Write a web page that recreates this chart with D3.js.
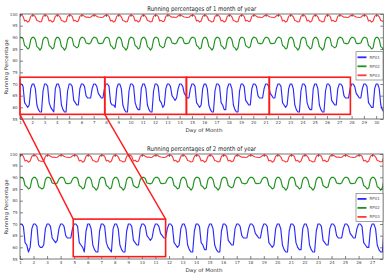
<!DOCTYPE html>
<html><head><meta charset="utf-8">
<script src="https://cdn.jsdelivr.net/npm/d3@7"></script>
<style>body{margin:0;background:#fff} svg{display:block} text{font-family:"DejaVu Sans",sans-serif}</style>
</head><body><svg id="c" width="390" height="280"></svg>
<script>
// ---------- data ----------
const sampleHours = [0,3,6,9,12,15,18,21];
const seriesNames = ["RP01","RP02","RP03"];
const yTicks = [55,60,65,70,75,80,85,90,95,100];
const xTicks1 = [1,2,3,4,5,6,7,8,9,10,11,12,13,14,15,16,17,18,19,20,21,22,23,24,25,26,27,28,29,30];
const xTicks2 = [1,2,3,4,5,6,7,8,9,10,11,12,13,14,15,16,17,18,19,20,21,22,23,24,25,26,27];
const titles = ["Running percentages of 1 month of year","Running percentages of 2 month of year"];

const m1RP01 = [
70,70,69,62,61,60,61,68, 70,70,68,61,59,58,58,67, 70,70,69,62,60,59,58,68, 70,70,68,61,59,58,58,67,
70,70,69,63,62,61,61,68, 70,70,69,65,64,64,64,68, 70,70,69,66,65,64,64,68, 70,70,69,62,61,61,60,68,
70,70,68,61,59,58,58,67, 70,70,69,62,60,59,59,68, 70,70,68,61,59,58,58,67, 70,70,69,63,62,60,61,68,
70,70,69,65,64,63,64,68, 70,70,69,66,65,64,64,68, 70,70,69,62,61,60,61,68, 70,70,68,61,59,58,58,67,
70,70,69,62,61,59,59,68, 70,70,68,61,59,58,58,67, 70,70,69,63,62,61,61,68, 70,70,69,65,64,64,64,68,
70,70,69,66,65,64,64,68, 70,70,69,62,61,60,61,68, 70,70,68,61,59,58,58,67, 70,70,69,62,60,59,59,68,
70,70,68,61,59,58,58,67, 70,70,69,63,62,61,61,68, 70,70,69,65,64,64,64,68, 70,70,69,66,65,64,64,68,
70,70,69,62,61,60,60,68, 70,70,68,61,59,58,58,67];
const m1RP02 = [
90,90,89.5,86.5,86,85,85.5,89, 90,90,89,86,85.5,84.5,85.5,89, 90,90,89.5,86.5,86,85,85.5,89, 90,90,89,86,85.5,84.5,85.5,89,
90,90,89.5,86.5,86,85.5,86,89, 90,90,89.5,87.6,87.4,87.2,87.6,89.2, 90,90,89.5,87.5,87.3,87.4,87.6,89.2, 90,90,89.5,86.5,86,85,85.5,89,
90,90,89,86,85.5,84.5,85.5,89, 90,90,89.5,86.5,86,85,85.5,89, 90,90,89,86,85.5,84.5,85.5,89, 90,90,89.5,86.5,86,85.5,86,89,
90,90,89.5,87.6,87.4,87.2,87.6,89.2, 90,90,89.5,87.5,87.3,87.4,87.6,89.2, 90,90,89.5,86.5,86,85,85.5,89, 90,90,89,86,85.5,84.5,85.5,89,
90,90,89.5,86.5,86,85,85.5,89, 90,90,89,86,85.5,84.5,85.5,89, 90,90,89.5,86.5,86,85.5,86,89, 90,90,89.5,87.6,87.4,87.2,87.6,89.2,
90,90,89.5,87.5,87.3,87.4,87.6,89.2, 90,90,89.5,86.5,86,85,85.5,89, 90,90,89,86,85.5,84.5,85.5,89, 90,90,89.5,86.5,86,85,85.5,89,
90,90,89,86,85.5,84.5,85.5,89, 90,90,89.5,86.5,86,85.5,86,89, 90,90,89.5,87.6,87.4,87.2,87.6,89.2, 90,90,89.5,87.5,87.3,87.4,87.6,89.2,
90,90,89.5,86.5,86,85,85.5,89, 90,90,89,86,85.5,84.5,85.5,89];
const m1RP03 = [
99.5,99.5,99,97,97.3,96.5,97,99, 99.5,99.5,98.8,97.2,97,96.6,96.8,99, 99.5,99.5,99,97,97.3,96.5,97,99, 99.5,99.5,98.8,97.2,97,96.6,96.8,99,
99.5,99.5,99,97,97.3,96.7,97,99, 99.5,99.5,99,98.6,98.7,98.5,98.6,99.2, 99.5,99.5,99,98.7,98.6,98.5,98.6,99.2, 99.5,99.5,99,97,97.3,96.5,97,99,
99.5,99.5,98.8,97.2,97,96.6,96.8,99, 99.5,99.5,99,97,97.3,96.5,97,99, 99.5,99.5,98.8,97.2,97,96.6,96.8,99, 99.5,99.5,99,97,97.3,96.7,97,99,
99.5,99.5,99,98.6,98.7,98.5,98.6,99.2, 99.5,99.5,99,98.7,98.6,98.5,98.6,99.2, 99.5,99.5,99,97,97.3,96.5,97,99, 99.5,99.5,98.8,97.2,97,96.6,96.8,99,
99.5,99.5,99,97,97.3,96.5,97,99, 99.5,99.5,98.8,97.2,97,96.6,96.8,99, 99.5,99.5,99,97,97.3,96.7,97,99, 99.5,99.5,99,98.6,98.7,98.5,98.6,99.2,
99.5,99.5,99,98.7,98.6,98.5,98.6,99.2, 99.5,99.5,99,97,97.3,96.5,97,99, 99.5,99.5,98.8,97.2,97,96.6,96.8,99, 99.5,99.5,99,97,97.3,96.5,97,99,
99.5,99.5,98.8,97.2,97,96.6,96.8,99, 99.5,99.5,99,97,97.3,96.7,97,99, 99.5,99.5,99,98.6,98.7,98.5,98.6,99.2, 99.5,99.5,99,98.7,98.6,98.5,98.6,99.2,
99.5,99.5,99,97,97.3,96.5,97,99, 99.5,99.5,98.8,97.2,97,96.6,96.8,99];

const m2RP01 = [
70,70,69,62,61,58,60,68, 70,70,69,61,60,60,61,68, 70,70,69,64,63,62,63,68, 70,70,69,65,64,64,64,68,
70,70,69,62,61,60,58,67, 70,70,68,61,59,58,58,67, 70,70,69,62,60,59,58,68, 70,70,68,61,59,58,58,67,
70,70,69,63,62,61,61,68, 70,70,69,65,64,63,64,68, 70,70,69,66,65,64,64,68, 70,70,69,62,61,60,61,68,
70,70,68,61,59,58,58,67, 70,70,69,62,61,59,59,68, 70,70,68,61,59,58,58,67, 70,70,69,63,62,61,61,68,
70,70,69,65,64,64,64,68, 70,70,69,66,65,64,64,68, 70,70,69,62,61,60,61,68, 70,70,68,61,59,58,58,67,
70,70,69,62,60,59,59,68, 70,70,68,61,59,58,58,67, 70,70,69,63,62,61,61,68, 70,70,69,65,64,64,64,68,
70,70,69,66,65,64,64,68, 70,70,69,62,61,60,60,68, 70,70,68,61,59,58,58,67];
const m2RP02 = [
90,90,89.5,86.5,86,85,85.5,89, 90,90,89,86,85.5,85,85.5,89, 90,90,89.5,87.6,87.4,87.2,87.6,89.2, 90,90,89.5,87.5,87.3,87.4,87.6,89.2,
90,90,89.5,86.5,86,85,85.5,89, 90,90,89,86,85.5,84.5,85.5,89, 90,90,89.5,86.5,86,85,85.5,89, 90,90,89,86,85.5,84.5,85.5,89,
90,90,89.5,86.5,86,85.5,86,89, 90,90,89.5,87.6,87.4,87.2,87.6,89.2, 90,90,89.5,87.5,87.3,87.4,87.6,89.2, 90,90,89.5,86.5,86,85,85.5,89,
90,90,89,86,85.5,84.5,85.5,89, 90,90,89.5,86.5,86,85,85.5,89, 90,90,89,86,85.5,84.5,85.5,89, 90,90,89.5,86.5,86,85.5,86,89,
90,90,89.5,87.6,87.4,87.2,87.6,89.2, 90,90,89.5,87.5,87.3,87.4,87.6,89.2, 90,90,89.5,86.5,86,85,85.5,89, 90,90,89,86,85.5,84.5,85.5,89,
90,90,89.5,86.5,86,85,85.5,89, 90,90,89,86,85.5,84.5,85.5,89, 90,90,89.5,86.5,86,85.5,86,89, 90,90,89.5,87.6,87.4,87.2,87.6,89.2,
90,90,89.5,87.5,87.3,87.4,87.6,89.2, 90,90,89.5,86.5,86,85,85.5,89, 90,90,89,86,85.5,84.5,85.5,89];
const m2RP03 = [
99.5,99.5,99,97,97.3,96.5,97,99, 99.5,99.5,98.8,97.2,97,96.8,97,99, 99.5,99.5,99,98.6,98.7,98.5,98.6,99.2, 99.5,99.5,99,98.7,98.6,98.5,98.6,99.2,
99.5,99.5,99,97,97.3,96.5,97,99, 99.5,99.5,98.8,97.2,97,96.6,96.8,99, 99.5,99.5,99,97,97.3,96.5,97,99, 99.5,99.5,98.8,97.2,97,96.6,96.8,99,
99.5,99.5,99,97,97.3,96.7,97,99, 99.5,99.5,99,98.6,98.7,98.5,98.6,99.2, 99.5,99.5,99,98.7,98.6,98.5,98.6,99.2, 99.5,99.5,99,97,97.3,96.5,97,99,
99.5,99.5,98.8,97.2,97,96.6,96.8,99, 99.5,99.5,99,97,97.3,96.5,97,99, 99.5,99.5,98.8,97.2,97,96.6,96.8,99, 99.5,99.5,99,97,97.3,96.7,97,99,
99.5,99.5,99,98.6,98.7,98.5,98.6,99.2, 99.5,99.5,99,98.7,98.6,98.5,98.6,99.2, 99.5,99.5,99,97,97.3,96.5,97,99, 99.5,99.5,98.8,97.2,97,96.6,96.8,99,
99.5,99.5,99,97,97.3,96.5,97,99, 99.5,99.5,98.8,97.2,97,96.6,96.8,99, 99.5,99.5,99,97,97.3,96.7,97,99, 99.5,99.5,99,98.6,98.7,98.5,98.6,99.2,
99.5,99.5,99,98.7,98.6,98.5,98.6,99.2, 99.5,99.5,99,97,97.3,96.5,97,99, 99.5,99.5,98.8,97.2,97,96.6,96.8,99];

// annotation ranges (days / percentages)
const zoomWeeks1 = [[1,7.9],[7.9,14.55],[14.55,21.3],[21.3,27.9]];
const zoomRange1 = [57, 72.9];
const zoomWeek2 = [4.93, 11.75];
const zoomRange2 = [56, 72.1];

// ---------- drawing ----------
const colors = ["#2a2aff","#1f931f","#ff3a3a"];
const svg = d3.select("#c");

function panel(cfg){
  const x = d3.scaleLinear().domain([1, cfg.xMax]).range([cfg.left, cfg.right]);
  const y = d3.scaleLinear().domain([55, 100]).range([cfg.bottom, cfg.top]);
  const g = svg.append("g");
  const id = "clip"+cfg.id;
  svg.append("clipPath").attr("id", id).append("rect")
    .attr("x", cfg.left).attr("y", cfg.top).attr("width", cfg.right-cfg.left).attr("height", cfg.bottom-cfg.top);

  const line = d3.line()
    .x((d,i)=> x(1 + Math.floor(i/sampleHours.length) + sampleHours[i%sampleHours.length]/24))
    .y(d=> y(d));
  cfg.series.forEach((s,k)=>{
    g.append("path").attr("d", line(s)).attr("fill","none")
      .attr("stroke", colors[k]).attr("stroke-width",1.15).attr("stroke-linejoin","round")
      .attr("clip-path", `url(#${id})`);
  });

  // axes
  const ax = (axis, tx, ty, labels)=>{
    const a = g.append("g").attr("transform",`translate(${tx},${ty})`).call(axis);
    a.select(".domain").remove();
    a.selectAll(".tick line").attr("stroke","#333").attr("stroke-width",0.6);
    a.selectAll(".tick text").attr("font-size",4).attr("fill","#444")
      .style("font-family","'DejaVu Sans',sans-serif");
    if(!labels) a.selectAll(".tick text").remove();
  };
  ax(d3.axisBottom(x).tickValues(cfg.xTicks).tickSize(-3).tickPadding(2.5), 0, cfg.bottom, true);
  ax(d3.axisTop(x).tickValues(cfg.xTicks).tickSize(-3), 0, cfg.top, false);
  ax(d3.axisLeft(y).tickValues(yTicks).tickSize(-3).tickPadding(2.5), cfg.left, 0, true);
  ax(d3.axisRight(y).tickValues(yTicks).tickSize(-3), cfg.right, 0, false);

  g.append("rect").attr("x",cfg.left).attr("y",cfg.top)
    .attr("width",cfg.right-cfg.left).attr("height",cfg.bottom-cfg.top)
    .attr("fill","none").attr("stroke","#555").attr("stroke-width",0.8);

  // title & labels
  g.append("text").attr("x",(cfg.left+cfg.right)/2).attr("y",cfg.top-3.5)
    .attr("text-anchor","middle").attr("font-size",6.5).attr("fill","#222")
    .attr("textLength",109).attr("lengthAdjust","spacingAndGlyphs").text(cfg.title);
  g.append("text").attr("x",204).attr("y",cfg.bottom+13)
    .attr("text-anchor","middle").attr("font-size",5).attr("fill","#333")
    .attr("textLength",37).attr("lengthAdjust","spacingAndGlyphs").text("Day of Month");
  g.append("text").attr("transform",`translate(7.8,${(cfg.top+cfg.bottom)/2+0.5}) rotate(-90)`)
    .attr("text-anchor","middle").attr("font-size",5).attr("fill","#333")
    .attr("textLength",55).attr("lengthAdjust","spacingAndGlyphs").text("Running Percentage");

  // legend
  const ly = cfg.top + cfg.legendOff;
  const lg = g.append("g");
  lg.append("rect").attr("x",356).attr("y",ly).attr("width",27).attr("height",28.3)
    .attr("fill","#fff").attr("stroke","#666").attr("stroke-width",0.6);
  seriesNames.forEach((n,k)=>{
    const yy = ly + 5.6 + k*9;
    lg.append("line").attr("x1",357.5).attr("x2",366.5).attr("y1",yy).attr("y2",yy)
      .attr("stroke",colors[k]).attr("stroke-width",1.8);
    lg.append("text").attr("x",369.5).attr("y",yy+1.4).attr("font-size",4).attr("fill","#555").text(n);
  });
  return {x,y};
}

const p1 = panel({id:1, left:20, right:383.3, top:14, bottom:119, xMax:30.58,
  series:[m1RP01,m1RP02,m1RP03], xTicks:xTicks1, title:titles[0], legendOff:37.7});
const p2 = panel({id:2, left:20, right:383, top:154, bottom:259, xMax:27.8,
  series:[m2RP01,m2RP02,m2RP03], xTicks:xTicks2, title:titles[1], legendOff:39.3});

// annotations
const red = "#ff1a1a";
zoomWeeks1.forEach(w=>{
  svg.append("rect").attr("x",p1.x(w[0])).attr("y",p1.y(zoomRange1[1]))
    .attr("width",p1.x(w[1])-p1.x(w[0])).attr("height",p1.y(zoomRange1[0])-p1.y(zoomRange1[1]))
    .attr("fill","none").attr("stroke",red).attr("stroke-width",1.6);
});
svg.append("rect").attr("x",p2.x(zoomWeek2[0])).attr("y",p2.y(zoomRange2[1]))
  .attr("width",p2.x(zoomWeek2[1])-p2.x(zoomWeek2[0])).attr("height",p2.y(zoomRange2[0])-p2.y(zoomRange2[1]))
  .attr("fill","none").attr("stroke",red).attr("stroke-width",1.6);
[[zoomWeeks1[0][0], zoomWeek2[0]],[zoomWeeks1[0][1], zoomWeek2[1]]].forEach(([a,b])=>{
  svg.append("line").attr("x1",p1.x(a)).attr("y1",p1.y(zoomRange1[0]))
    .attr("x2",p2.x(b)).attr("y2",p2.y(zoomRange2[1]))
    .attr("stroke",red).attr("stroke-width",1.4);
});
</script></body></html>
